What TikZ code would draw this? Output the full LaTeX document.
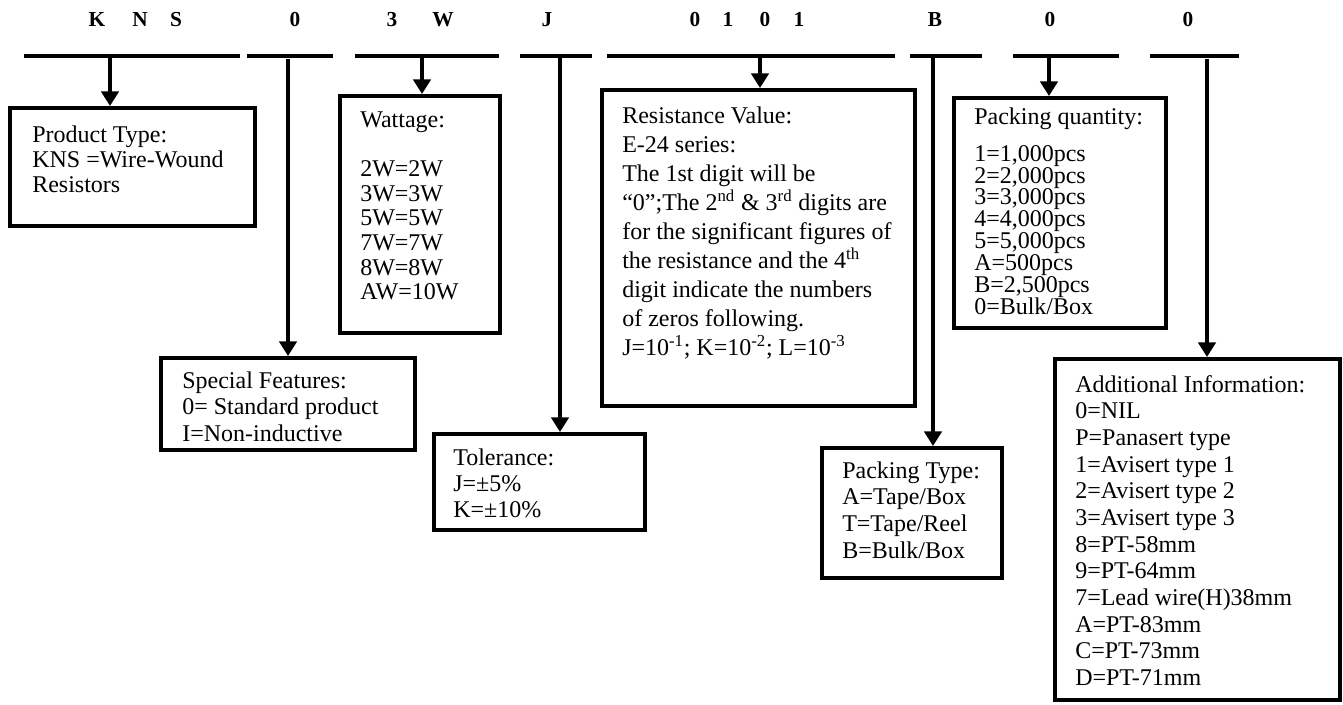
\documentclass[tikz,border=0pt]{standalone}
\usepackage{fontspec}
\setmainfont{Liberation Serif}
\usetikzlibrary{arrows.meta}
\newcommand\boxlines[1]{\parbox[t]{300pt}{\lineskiplimit=-100pt\relax #1}}
\tikzset{
  barline/.style={line width=3pt},
  infobox/.style={draw, line width=3pt, rectangle, inner sep=0pt},
  arrconn/.style={line width=3pt, -{Triangle[width=13pt,length=11pt]}},
  titlechar/.style={anchor=base, inner sep=0pt, font=\fontsize{16}{18}\selectfont\bfseries},
  txt/.style={anchor=base west, inner sep=0pt},
}
\begin{document}
\begin{tikzpicture}[x=0.75pt, y=-0.75pt]
\useasboundingbox (0,0) rectangle (1343,704);

\node[titlechar] (tK) at (97,26) {K};
\node[titlechar] (tN) at (140,26) {N};
\node[titlechar] (tS) at (176,26) {S};
\node[titlechar] (t0a) at (295,26) {0};
\node[titlechar] (t3) at (392,26) {3};
\node[titlechar] (tW) at (443,26) {W};
\node[titlechar] (tJ) at (547,26) {J};
\node[titlechar] (t0b) at (695,26) {0};
\node[titlechar] (t1a) at (728,26) {1};
\node[titlechar] (t0c) at (765,26) {0};
\node[titlechar] (t1b) at (799,26) {1};
\node[titlechar] (tB) at (935,26) {B};
\node[titlechar] (t0d) at (1050,26) {0};
\node[titlechar] (t0e) at (1188,26) {0};

\coordinate (b1w) at (24,56);   \coordinate (b1e) at (240,56);
\coordinate (b2w) at (247,56);  \coordinate (b2e) at (333,56);
\coordinate (b3w) at (355,56);  \coordinate (b3e) at (499,56);
\coordinate (b4w) at (520,56);  \coordinate (b4e) at (592,56);
\coordinate (b5w) at (607,56);  \coordinate (b5e) at (895,56);
\coordinate (b6w) at (910,56);  \coordinate (b6e) at (982,56);
\coordinate (b7w) at (1013,56); \coordinate (b7e) at (1119,56);
\coordinate (b8w) at (1150,56); \coordinate (b8e) at (1239,56);
\draw[barline] (b1w) -- (b1e);
\draw[barline] (b2w) -- (b2e);
\draw[barline] (b3w) -- (b3e);
\draw[barline] (b4w) -- (b4e);
\draw[barline] (b5w) -- (b5e);
\draw[barline] (b6w) -- (b6e);
\draw[barline] (b7w) -- (b7e);
\draw[barline] (b8w) -- (b8e);

\node[infobox, minimum width=183.75pt, minimum height=88.5pt] (prod) at (132.5,167) {};
\node[infobox, minimum width=190.5pt, minimum height=69pt] (spec) at (288,404) {};
\node[infobox, minimum width=120pt, minimum height=177.75pt] (watt) at (420,214.5) {};
\node[infobox, minimum width=158.25pt, minimum height=72pt] (tol) at (539.5,482) {};
\node[infobox, minimum width=234.75pt, minimum height=237pt] (res) at (758.5,248) {};
\node[infobox, minimum width=135pt, minimum height=97.5pt] (ptype) at (912,513) {};
\node[infobox, minimum width=159pt, minimum height=172.5pt] (pqty) at (1060,213) {};
\node[infobox, minimum width=213.75pt, minimum height=255.75pt] (addi) at (1197.5,529.5) {};

\coordinate (s1) at (110,56);
\coordinate (s2) at (288,59);
\coordinate (s3) at (422,56);
\coordinate (s4) at (560,56);
\coordinate (s5) at (760,56);
\coordinate (s6) at (933,56);
\coordinate (s7) at (1049,56);
\coordinate (s8) at (1207,59);

\draw[arrconn] (s1) -- (s1 |- prod.north);
\draw[arrconn] (s2) -- (s2 |- spec.north);
\draw[arrconn] (s3) -- (s3 |- watt.north);
\draw[arrconn] (s4) -- (s4 |- tol.north);
\draw[arrconn] (s5) -- (s5 |- res.north);
\draw[arrconn] (s6) -- (s6 |- ptype.north);
\draw[arrconn] (s7) -- (s7 |- pqty.north);
\draw[arrconn] (s8) -- (s8 |- addi.north);

\node[txt, font=\fontsize{18}{18.75}\selectfont] (prodtxt) at (32,142)
  {\boxlines{Product Type:\\KNS =Wire-Wound\\Resistors}};
\node[txt, font=\fontsize{18}{19.9}\selectfont] (spectxt) at (182,388)
  {\boxlines{Special Features:\\0= Standard product\\I=Non-inductive}};
\node[txt, font=\fontsize{18}{18.5}\selectfont] (watttxt) at (360,127)
  {\boxlines{Wattage:\\\mbox{}\\2W=2W\\3W=3W\\5W=5W\\7W=7W\\8W=8W\\AW=10W}};
\node[txt, font=\fontsize{18}{19.5}\selectfont] (toltxt) at (453,465)
  {\boxlines{Tolerance:\\J=±5\%\\K=±10\%}};
\node[txt, font=\fontsize{18}{21.75}\selectfont] (restxt) at (622,123)
  {\boxlines{Resistance Value:\\E-24 series:\\The 1st digit will be\\“0”;The 2\textsuperscript{nd} \& 3\textsuperscript{rd} digits are\\for the significant figures of\\the resistance and the 4\textsuperscript{th}\\digit indicate the numbers\\of zeros following.\\J=10\textsuperscript{-1}; K=10\textsuperscript{-2}; L=10\textsuperscript{-3}}};
\node[txt, font=\fontsize{18}{20}\selectfont] (ptypetxt) at (842,478)
  {\boxlines{Packing Type:\\A=Tape/Box\\T=Tape/Reel\\B=Bulk/Box}};
\node[txt, font=\fontsize{18}{16.4}\selectfont] (pqtytxt) at (974,124)
  {\boxlines{Packing quantity:\\[11.5pt]1=1,000pcs\\2=2,000pcs\\3=3,000pcs\\4=4,000pcs\\5=5,000pcs\\A=500pcs\\B=2,500pcs\\0=Bulk/Box}};
\node[txt, font=\fontsize{18}{20}\selectfont] (additxt) at (1075,392)
  {\boxlines{Additional Information:\\0=NIL\\P=Panasert type\\1=Avisert type 1\\2=Avisert type 2\\3=Avisert type 3\\8=PT-58mm\\9=PT-64mm\\7=Lead wire(H)38mm\\A=PT-83mm\\C=PT-73mm\\D=PT-71mm}};
\end{tikzpicture}
\end{document}
